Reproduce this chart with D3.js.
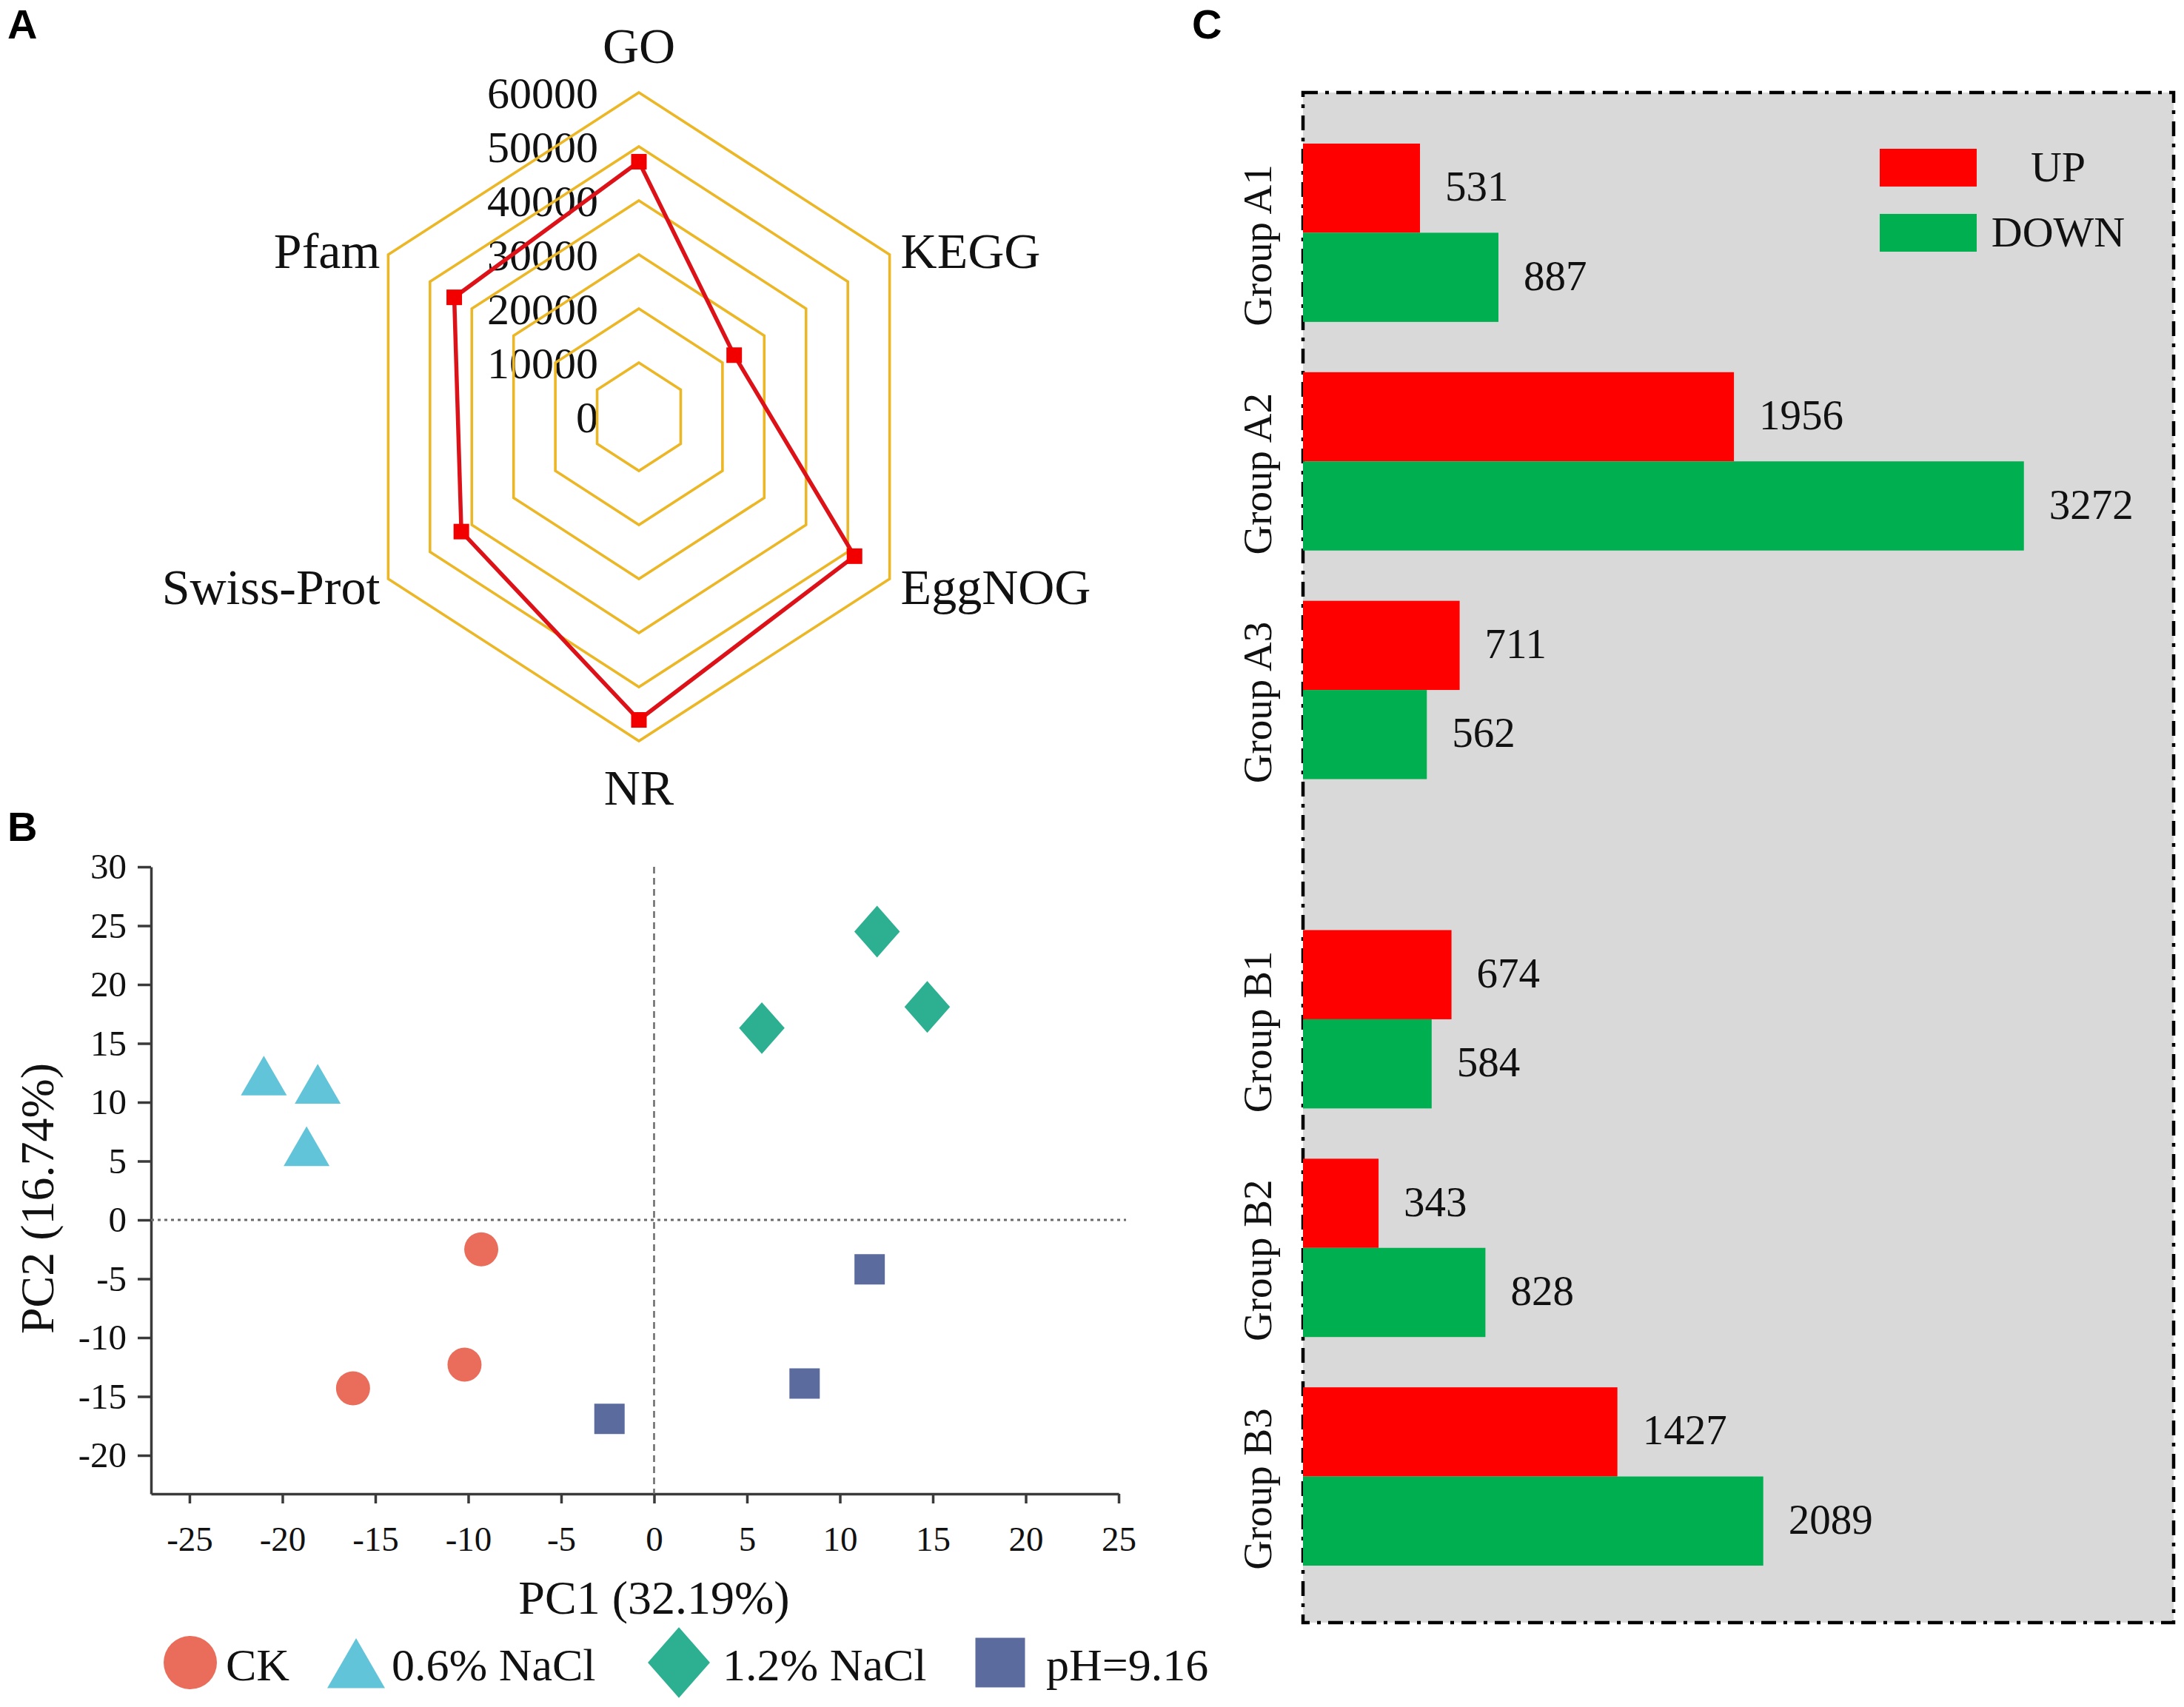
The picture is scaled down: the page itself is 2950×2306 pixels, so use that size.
<!DOCTYPE html>
<html>
<head>
<meta charset="utf-8">
<script src="https://cdn.jsdelivr.net/npm/d3@7"></script>
<style>
  body { margin: 0; background: #fff; }
  text { font-family: "Liberation Serif", "Times New Roman", serif; fill: #111; }
  .panel { font-family: "Liberation Sans", Arial, sans-serif; font-weight: bold; fill: #000; }
</style>
</head>
<body>
<svg id="fig" width="2950" height="2306"></svg>
<script>
// A: annotated unigenes per database
const dbNames = ['GO', 'KEGG', 'EggNOG', 'NR', 'Swiss-Prot', 'Pfam'];
const dbCounts = [47200, 22800, 51600, 56100, 42500, 44200];
const radarTicks = [0, 10000, 20000, 30000, 40000, 50000, 60000];

// B: PCA samples
const pcaGroups = ['CK', '0.6% NaCl', '1.2% NaCl', 'pH=9.16'];
const sampleGroup = ['CK', 'CK', 'CK', '0.6% NaCl', '0.6% NaCl', '0.6% NaCl',
                     '1.2% NaCl', '1.2% NaCl', '1.2% NaCl', 'pH=9.16', 'pH=9.16', 'pH=9.16'];
const samplePC1 = [-9.3, -10.2, -16.2, -21.0, -18.1, -18.7, 12.0, 5.8, 14.7, 11.6, 8.1, -2.4];
const samplePC2 = [-2.5, -12.3, -14.3, 11.7, 11.0, 5.7, 24.5, 16.3, 18.1, -4.2, -13.9, -16.9];
const pcaXTicks = [-25, -20, -15, -10, -5, 0, 5, 10, 15, 20, 25];
const pcaYTicks = [-20, -15, -10, -5, 0, 5, 10, 15, 20, 25, 30];

// C: DEG counts
const degGroups = ['Group A1', 'Group A2', 'Group A3', 'Group B1', 'Group B2', 'Group B3'];
const upCounts = [531, 1956, 711, 674, 343, 1427];
const downCounts = [887, 3272, 562, 584, 828, 2089];

const svg = d3.select('#fig');

// panel letters
svg.append('text').attr('class', 'panel').attr('x', 10).attr('y', 52).attr('font-size', 56).text('A');
svg.append('text').attr('class', 'panel').attr('x', 10).attr('y', 1136).attr('font-size', 56).text('B');
svg.append('text').attr('class', 'panel').attr('x', 1610).attr('y', 52).attr('font-size', 56).text('C');

// ---------------- A: radar ----------------
{
  const cx = 863, cy = 563, kx = 391, ky = 438;
  const r = d3.scaleLinear().domain([0, 60000]).range([0, 1]);
  const ang = i => -Math.PI / 2 + i * Math.PI / 3;
  const px = (i, v) => cx + kx * r(v) * Math.cos(ang(i));
  const py = (i, v) => cy + ky * r(v) * Math.sin(ang(i));
  const g = svg.append('g');

  // tick labels (under the rings)
  g.selectAll('text.tick').data(radarTicks).join('text')
    .attr('x', 808).attr('y', d => py(0, d)).attr('dy', '0.35em')
    .attr('text-anchor', 'end').attr('font-size', 60)
    .text(d => d);

  const line = d3.line().curve(d3.curveLinearClosed);
  g.selectAll('path.ring').data(radarTicks.filter(t => t > 0)).join('path')
    .attr('d', t => line(dbNames.map((n, i) => [px(i, t), py(i, t)])))
    .attr('fill', 'none').attr('stroke', '#ECB726').attr('stroke-width', 3.6);

  const pts = dbCounts.map((v, i) => [px(i, v), py(i, v)]);
  g.append('path').attr('d', line(pts))
    .attr('fill', 'none').attr('stroke', '#DD1219').attr('stroke-width', 5.5)
    .attr('stroke-linejoin', 'miter');
  g.selectAll('rect.mk').data(pts).join('rect')
    .attr('x', d => d[0] - 10.5).attr('y', d => d[1] - 10.5)
    .attr('width', 21).attr('height', 21).attr('fill', '#F20000');

  // category labels
  const lab = [
    { a: 'middle', dx: 0, dy: -40 },
    { a: 'start', dx: 15, dy: 18 },
    { a: 'start', dx: 15, dy: 34 },
    { a: 'middle', dx: 0, dy: 86 },
    { a: 'end', dx: -11, dy: 34 },
    { a: 'end', dx: -11, dy: 18 }
  ];
  g.selectAll('text.cat').data(dbNames).join('text')
    .attr('x', (d, i) => px(i, 60000) + lab[i].dx)
    .attr('y', (d, i) => py(i, 60000) + lab[i].dy)
    .attr('text-anchor', (d, i) => lab[i].a)
    .attr('font-size', 68)
    .text(d => d);
}

// ---------------- B: PCA scatter ----------------
{
  const x = d3.scaleLinear().domain([-27.07, 25]).range([204, 1511]);
  const y = d3.scaleLinear().domain([-23.27, 30]).range([2018, 1171]);
  const g = svg.append('g');
  const axisCol = '#3a3a3a';

  const xa = g.append('g').attr('transform', 'translate(0,2018)')
    .call(d3.axisBottom(x).tickValues(pcaXTicks).tickFormat(d => String(d))
      .tickSize(13).tickSizeOuter(0).tickPadding(31));
  const ya = g.append('g').attr('transform', 'translate(204,0)')
    .call(d3.axisLeft(y).tickValues(pcaYTicks).tickFormat(d => String(d))
      .tickSize(18).tickSizeOuter(0).tickPadding(15));
  [xa, ya].forEach(a => {
    a.select('.domain').attr('stroke', axisCol).attr('stroke-width', 3.5);
    a.selectAll('.tick line').attr('stroke', axisCol).attr('stroke-width', 3.5);
    a.selectAll('.tick text').attr('fill', '#111')
      .attr('font-family', '"Liberation Serif", "Times New Roman", serif');
  });
  xa.selectAll('.tick text').attr('font-size', 47);
  ya.selectAll('.tick text').attr('font-size', 49);

  // zero reference lines
  g.append('line').attr('x1', x(-27.07)).attr('x2', x(25.4)).attr('y1', y(0)).attr('y2', y(0))
    .attr('stroke', '#6a6a6a').attr('stroke-width', 3).attr('stroke-dasharray', '4,5');
  g.append('line').attr('x1', x(0)).attr('x2', x(0)).attr('y1', y(30)).attr('y2', y(-23.27))
    .attr('stroke', '#6a6a6a').attr('stroke-width', 2.5).attr('stroke-dasharray', '9,6');

  const colors = d3.scaleOrdinal().domain(pcaGroups)
    .range(['#EA6C5A', '#62C4D8', '#2DAF92', '#5B6B9D']);
  // diamond a bit wider than d3's default one
  const wideDiamond = {
    draw(ctx, size) {
      const h = Math.sqrt(size / 0.88) / 2 * Math.SQRT2, w = h * 0.88;
      ctx.moveTo(0, -h); ctx.lineTo(w, 0); ctx.lineTo(0, h); ctx.lineTo(-w, 0); ctx.closePath();
    }
  };
  const shapes = d3.scaleOrdinal().domain(pcaGroups)
    .range([d3.symbolCircle, d3.symbolTriangle, wideDiamond, d3.symbolSquare]);
  const sizes = { 'CK': Math.PI * 23 * 23, '0.6% NaCl': 1665, '1.2% NaCl': 2150, 'pH=9.16': 41 * 41 };
  const legendSizes = { 'CK': Math.PI * 36 * 36, '0.6% NaCl': 0.433 * 78 * 78, '1.2% NaCl': 4000, 'pH=9.16': 67 * 67 };

  g.selectAll('path.pt').data(sampleGroup).join('path')
    .attr('transform', (d, i) => `translate(${x(samplePC1[i])},${y(samplePC2[i])})`)
    .attr('d', d => d3.symbol(shapes(d), sizes[d])())
    .attr('fill', d => colors(d));

  // axis titles
  g.append('text').attr('x', x(0)).attr('y', 2180).attr('text-anchor', 'middle')
    .attr('font-size', 64).text('PC1 (32.19%)');
  g.append('text').attr('transform', 'translate(72,1619) rotate(-90)').attr('text-anchor', 'middle')
    .attr('font-size', 64).text('PC2 (16.74%)');

  // legend
  const legSym = [257, 481, 917, 1351];
  const legTxt = [305, 529, 976, 1413];
  const lg = g.selectAll('g.leg').data(pcaGroups).join('g');
  lg.append('path')
    .attr('transform', (d, i) => `translate(${legSym[i]},${d === '0.6% NaCl' ? 2258 : 2246})`)
    .attr('d', d => d3.symbol(shapes(d), legendSizes[d])())
    .attr('fill', d => colors(d));
  lg.append('text').attr('x', (d, i) => legTxt[i]).attr('y', 2270)
    .attr('font-size', 62).text(d => d);
}

// ---------------- C: DEG bars ----------------
{
  const g = svg.append('g');
  const boxX = 1760, boxY = 125, boxR = 2936, boxB = 2192;
  g.append('rect').attr('x', boxX).attr('y', boxY)
    .attr('width', boxR - boxX).attr('height', boxB - boxY)
    .attr('fill', '#D9D9D9').attr('stroke', '#000').attr('stroke-width', 4.5)
    .attr('stroke-dasharray', '20,10,5,10');

  const x = d3.scaleLinear().domain([0, 4000]).range([boxX, boxX + 4000 * 0.2976]);
  const block = d3.scaleBand().domain(['A', 'B']).range([160, 2149]).paddingInner(0.128);
  const inner = d3.scaleBand().domain(['1', '2', '3']).range([0, block.bandwidth()])
    .paddingInner(0.22).paddingOuter(0.11);
  const sub = d3.scaleBand().domain(['UP', 'DOWN']).range([0, inner.bandwidth()]);
  const color = d3.scaleOrdinal().domain(['UP', 'DOWN']).range(['#FF0000', '#00B050']);
  const gy = name => block(name.slice(-2, -1)) + inner(name.slice(-1));

  const rows = [];
  degGroups.forEach((n, i) => {
    rows.push({ g: n, k: 'UP', v: upCounts[i] });
    rows.push({ g: n, k: 'DOWN', v: downCounts[i] });
  });
  g.selectAll('rect.bar').data(rows).join('rect')
    .attr('x', x(0)).attr('y', d => gy(d.g) + sub(d.k))
    .attr('width', d => x(d.v) - x(0)).attr('height', sub.bandwidth())
    .attr('fill', d => color(d.k));
  g.selectAll('text.val').data(rows).join('text')
    .attr('x', d => x(d.v) + 34).attr('y', d => gy(d.g) + sub(d.k) + sub.bandwidth() / 2)
    .attr('dy', '0.3em').attr('font-size', 57).text(d => d.v);

  g.selectAll('text.grp').data(degGroups).join('text')
    .attr('transform', d => `translate(1717,${gy(d) + inner.bandwidth() / 2 + 17}) rotate(-90)`)
    .attr('text-anchor', 'middle').attr('font-size', 55).text(d => d);

  // legend
  const keys = ['UP', 'DOWN'];
  const ly = d3.scaleBand().domain(keys).range([201, 340]).paddingInner(0.42);
  g.selectAll('rect.leg').data(keys).join('rect')
    .attr('x', 2539).attr('y', d => ly(d)).attr('width', 131).attr('height', ly.bandwidth())
    .attr('fill', d => color(d));
  g.selectAll('text.leg').data(keys).join('text')
    .attr('x', 2780).attr('y', d => ly(d) + 44).attr('text-anchor', 'middle')
    .attr('font-size', 58).text(d => d);
}
</script>
</body>
</html>
